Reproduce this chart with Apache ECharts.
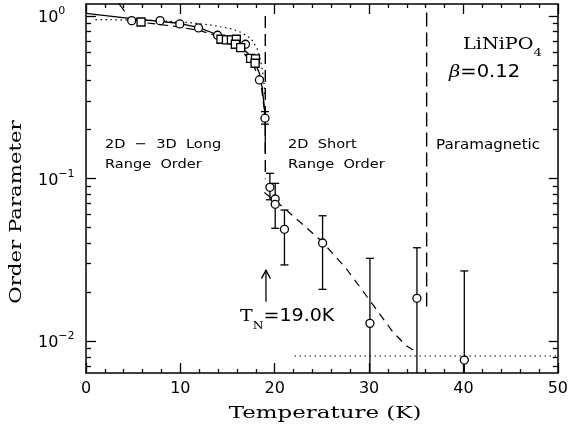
<!DOCTYPE html>
<html>
<head>
<meta charset="utf-8">
<script src="https://cdn.jsdelivr.net/npm/echarts@6/dist/echarts.min.js"></script>
<style>
  html, body { margin: 0; padding: 0; background: #fff; }
  #chart { width: 571px; height: 434px; }
</style>
</head>
<body>
<div id="chart"></div>
<script>
// ---- Measured order parameter of LiNiPO4 versus temperature ----
// open circles
const circleT = [4.84, 7.85, 9.94, 11.92, 13.94, 16.9, 18.38, 18.97, 19.49, 20.05, 20.05, 21.03, 25.07, 30.09, 35.07, 40.09];
const circleM = [0.936, 0.936, 0.893, 0.844, 0.761, 0.670, 0.404, 0.235, 0.0883, 0.0748, 0.0694, 0.0487, 0.0401, 0.01285, 0.01832, 0.00764];
// open squares
const squareT = [5.83, 14.3, 14.88, 15.41, 15.93, 15.83, 16.39, 17.44, 17.96, 17.92];
const squareM = [0.918, 0.719, 0.712, 0.712, 0.719, 0.670, 0.638, 0.549, 0.544, 0.512];
// error bars (lower / upper limits)
const errT    = [18.97, 19.49, 20.05, 21.03, 25.07, 30.09, 35.07, 40.09];
const errLow  = [0.216, 0.074, 0.0494, 0.0294, 0.0208, 0.001, 0.001, 0.001];
const errHigh = [0.258, 0.1076, 0.0934, 0.064, 0.059, 0.0323, 0.0375, 0.027];

// ---- Model curves ----
// power-law fit, beta = 0.12 (solid)
const fitT = [0, 4.6, 9.83, 11.9, 14.0, 16.1, 17.15, 17.85, 18.38, 18.65, 18.9, 19.0, 19.0];
const fitM = [1.039, 0.968, 0.902, 0.852, 0.764, 0.666, 0.59, 0.523, 0.444, 0.368, 0.277, 0.209, 0.144];
// alternative fit (dashed, low-T branch)
const altT = [6.5, 9, 12, 14, 16, 17.5, 18.5, 18.95];
const altM = [0.905, 0.87, 0.815, 0.75, 0.645, 0.53, 0.40, 0.25];
// mean-field-like curve (dotted)
const dotT = [1.0, 5, 8, 11, 13.5, 15.5, 16.5, 17.5, 18.2, 18.6, 18.85, 18.95];
const dotM = [0.95, 0.945, 0.935, 0.91, 0.875, 0.83, 0.79, 0.725, 0.62, 0.50, 0.40, 0.32];
// 2D short range order decay (dashed)
const srT = [18.9, 20.7, 23, 25, 27.6, 30.1, 32.5, 33.9, 35.1];
const srM = [0.082, 0.068, 0.052, 0.041, 0.0278, 0.0177, 0.0114, 0.0094, 0.0085];
// background level (dotted)
const bgT = [22.1, 50];
const bgM = [0.0081, 0.0081];
// short leader line near the top
const leadT = [3.0, 4.1];
const leadM = [1.3, 1.067];
// phase boundaries (dashed verticals)
const tnT = [19.0, 19.0];
const tnM = [1.0, 0.1];
const pmT = [36.1, 36.1];
const pmM = [1.05, 0.0155];
// T_N arrow: [T, tail, tip]
const arrowData = [[19.07, 0.01745, 0.0273]];

// ---- Axes ----
const xMin = 0, xMax = 50, xStep = 10;
const yMin = 0.00636, yMax = 1.185;
const yMajor = [0.01, 0.1, 1];
const yMinor = [0.007, 0.008, 0.009,
                0.02, 0.03, 0.04, 0.05, 0.06, 0.07, 0.08, 0.09,
                0.2, 0.3, 0.4, 0.5, 0.6, 0.7, 0.8, 0.9];

const zip = (a, b) => a.map((v, i) => [v, b[i]]);
const INK = '#000';

function xAxisCfg(pos, showLabel) {
  return {
    type: 'value', position: pos, min: xMin, max: xMax, interval: xStep,
    axisLine: { show: true, onZero: false, lineStyle: { color: INK, width: 1.5 } },
    axisTick: { show: true, inside: true, length: 10, lineStyle: { color: INK, width: 1.3 } },
    minorTick: { show: true, splitNumber: 5, length: 4, lineStyle: { color: INK, width: 1.3 } },
    splitLine: { show: false }, minorSplitLine: { show: false },
    axisLabel: { show: showLabel, margin: 8, fontSize: 16, fontFamily: 'DejaVu Sans', color: INK }
  };
}
function yAxisCfg(pos, values, len, withLine, withLabel) {
  return {
    type: 'log', logBase: 10, position: pos, min: yMin, max: yMax,
    axisLine: { show: withLine, onZero: false, lineStyle: { color: INK, width: 1.5 } },
    axisTick: { show: true, inside: true, length: len, customValues: values, lineStyle: { color: INK, width: 1.3 } },
    minorTick: { show: false },
    splitLine: { show: false }, minorSplitLine: { show: false },
    axisLabel: {
      show: withLabel, customValues: values, align: 'left', margin: 48,
      formatter: v => {
        const e = Math.round(Math.log10(v));
        return '{b|10}{s|' + (e < 0 ? '\u2212' + (-e) : e) + '}';
      },
      rich: {
        b: { fontSize: 16, fontFamily: 'DejaVu Sans', color: INK, lineHeight: 20, verticalAlign: 'bottom' },
        s: { fontSize: 11, fontFamily: 'DejaVu Sans', color: INK, lineHeight: 20, verticalAlign: 'top' }
      }
    }
  };
}

function lineSeries(t, m, type, width, z) {
  return {
    type: 'line', data: zip(t, m), symbol: 'none', showSymbol: false, silent: true,
    clip: true, z: z || 2,
    lineStyle: { color: INK, width: width || 1.2, type: type }
  };
}

function errorBars(params, api) {
  const t = api.value(0), lo = api.value(1), hi = api.value(2);
  const top = api.coord([t, hi]), bot = api.coord([t, lo]);
  const cs = params.coordSys;
  const yTop = cs.y, yBot = cs.y + cs.height;
  const half = 4;
  const st = { stroke: INK, lineWidth: 1.3 };
  const kids = [{
    type: 'line',
    shape: { x1: top[0], y1: Math.max(top[1], yTop), x2: top[0], y2: Math.min(bot[1], yBot) },
    style: st
  }];
  if (top[1] >= yTop) kids.push({ type: 'line', shape: { x1: top[0] - half, y1: top[1], x2: top[0] + half, y2: top[1] }, style: st });
  if (bot[1] <= yBot) kids.push({ type: 'line', shape: { x1: bot[0] - half, y1: bot[1], x2: bot[0] + half, y2: bot[1] }, style: st });
  return { type: 'group', children: kids };
}

function arrowItem(params, api) {
  const t = api.value(0);
  const tail = api.coord([t, api.value(1)]), tip = api.coord([t, api.value(2)]);
  const st = { stroke: INK, lineWidth: 1.3, fill: null };
  return {
    type: 'group', children: [
      { type: 'line', shape: { x1: tail[0], y1: tail[1], x2: tip[0], y2: tip[1] }, style: st },
      { type: 'polyline', shape: { points: [[tip[0] - 4.5, tip[1] + 8.5], [tip[0], tip[1]], [tip[0] + 4.5, tip[1] + 8.5]] }, style: st }
    ]
  };
}

function label(x, y, text, font, sx) {
  return {
    type: 'text', x: x, y: y, scaleX: sx || 1, silent: true,
    style: { text: text, font: font, fill: INK, textAlign: 'left', textVerticalAlign: 'middle' }
  };
}

const chart = echarts.init(document.getElementById('chart'), null, { renderer: 'canvas' });
chart.setOption({
  animation: false,
  backgroundColor: '#fff',
  grid: { left: 86, right: 7, top: 4, bottom: 61, containLabel: false },
  xAxis: [xAxisCfg('bottom', true), xAxisCfg('top', false)],
  yAxis: [
    yAxisCfg('left', yMajor, 10, true, true),
    yAxisCfg('left', yMinor, 5, false, false),
    yAxisCfg('right', yMajor, 9, true, false),
    yAxisCfg('right', yMinor, 5, false, false)
  ],
  series: [
    lineSeries(fitT, fitM, 'solid', 1.3),
    lineSeries(altT, altM, [8, 5], 1.2),
    lineSeries(dotT, dotM, [1.5, 3.5], 1.2),
    lineSeries(srT, srM, [8, 6], 1.2),
    lineSeries(bgT, bgM, [1.5, 3.5], 1.1),
    lineSeries(leadT, leadM, 'solid', 1.2),
    lineSeries(tnT, tnM, [12, 6], 1.4),
    lineSeries(pmT, pmM, [14, 6], 1.4),
    {
      type: 'custom', renderItem: errorBars, silent: true, z: 3,
      data: errT.map((t, i) => [t, errLow[i], errHigh[i]]),
      encode: { x: 0, y: [1, 2] }
    },
    {
      type: 'custom', renderItem: arrowItem, silent: true, z: 3, clip: false,
      data: arrowData, encode: { x: 0, y: [1, 2] }
    },
    {
      type: 'scatter', data: zip(circleT, circleM), symbol: 'circle', symbolSize: 8, z: 5,
      itemStyle: { color: '#fff', borderColor: INK, borderWidth: 1.3, opacity: 1 }, silent: true
    },
    {
      type: 'scatter', data: zip(squareT, squareM), symbol: 'rect', symbolSize: 8, z: 5,
      itemStyle: { color: '#fff', borderColor: INK, borderWidth: 1.3, opacity: 1 }, silent: true
    }
  ],
  graphic: [
    label(105, 145, '2D  \u2212  3D  Long', '13px DejaVu Sans', 1.12),
    label(105, 165, 'Range  Order', '13px DejaVu Sans', 1.12),
    label(288, 145, '2D  Short', '13px DejaVu Sans', 1.12),
    label(288, 165, 'Range  Order', '13px DejaVu Sans', 1.12),
    label(436, 145, 'Paramagnetic', '14px DejaVu Sans', 1.08),
    {
      type: 'text', x: 463, y: 48, scaleX: 1.2, silent: true,
      style: {
        text: '{a|LiNiPO}{b|4}', fill: INK, textAlign: 'left', textVerticalAlign: 'middle',
        rich: {
          a: { font: '16px DejaVu Serif', fill: INK, lineHeight: 22, verticalAlign: 'top' },
          b: { font: '11px DejaVu Serif', fill: INK, lineHeight: 22, verticalAlign: 'bottom' }
        }
      }
    },
    {
      type: 'text', x: 449, y: 73, scaleX: 1.15, silent: true,
      style: {
        text: '{a|\u03B2}{b|=0.12}', fill: INK, textAlign: 'left', textVerticalAlign: 'middle',
        rich: {
          a: { font: 'italic 17px DejaVu Serif', fill: INK },
          b: { font: '17px DejaVu Sans', fill: INK }
        }
      }
    },
    {
      type: 'text', x: 240, y: 320, scaleX: 1.12, silent: true,
      style: {
        text: '{a|T}{b|N}{c|=19.0K}', fill: INK, textAlign: 'left', textVerticalAlign: 'middle',
        rich: {
          a: { font: '17px DejaVu Serif', fill: INK, lineHeight: 24, verticalAlign: 'top' },
          b: { font: '11px DejaVu Serif', fill: INK, lineHeight: 24, verticalAlign: 'bottom' },
          c: { font: '17px DejaVu Sans', fill: INK, lineHeight: 24, verticalAlign: 'top' }
        }
      }
    },
    {
      type: 'text', x: 325, y: 414, scaleX: 1.35, silent: true,
      style: { text: 'Temperature (K)', font: '17px DejaVu Serif', fill: INK, textAlign: 'center', textVerticalAlign: 'middle' }
    },
    {
      type: 'text', x: 17, y: 212, rotation: Math.PI / 2, scaleX: 1.25, silent: true,
      style: { text: 'Order Parameter', font: '17px DejaVu Serif', fill: INK, textAlign: 'center', textVerticalAlign: 'middle' }
    }
  ]
});
</script>
</body>
</html>
